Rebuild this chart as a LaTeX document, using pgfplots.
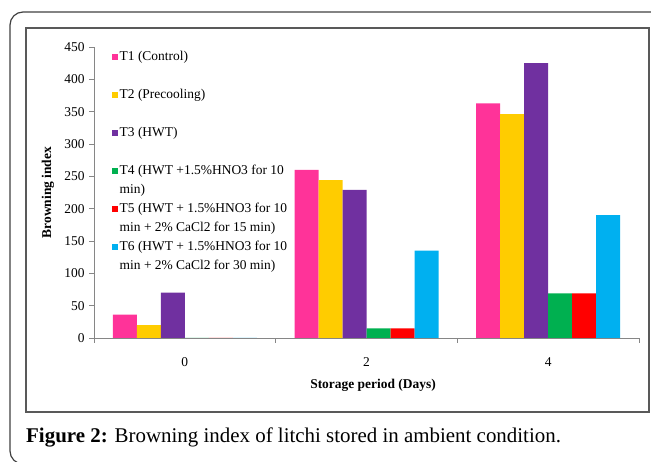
\documentclass[border=0pt]{standalone}
\usepackage{fontspec}
\setmainfont{Liberation Serif}
\usepackage{pgfplots}
\pgfplotsset{compat=1.18}
\definecolor{cT1}{HTML}{FF3399}
\definecolor{cT2}{HTML}{FFCC00}
\definecolor{cT3}{HTML}{7030A0}
\definecolor{cT4}{HTML}{00B050}
\definecolor{cT5}{HTML}{FF0000}
\definecolor{cT6}{HTML}{00B0F0}
\definecolor{axgray}{HTML}{868686}
\begin{document}
\begin{tikzpicture}[x=1bp,y=1bp]
\useasboundingbox (0,0) rectangle (651,462);
\begin{scope}
\clip (0,0) rectangle (651,462);
\draw[line width=1.2bp, color=black!75, rounded corners=13bp] (670,450) -- (10,450) -- (10,-2) -- (670,-2);
\end{scope}
\draw[line width=1.5bp, color=black!65] (26,50) rectangle (649,434);
\node[anchor=base west, inner sep=0pt] at (26,19) {\fontsize{21}{24}\selectfont\textbf{Figure 2:} Browning index of litchi stored in ambient condition.};
\begin{axis}[
  at={(94bp,124bp)}, anchor=south west,
  scale only axis, width=545bp, height=291bp,
  xmin=-0.5, xmax=2.5, ymin=0, ymax=450,
  axis x line*=bottom, axis y line*=left,
  axis line style={draw=axgray, line width=0.8bp},
  ybar=0pt, bar width=24bp,
  xtick={-0.5,0.5,1.5,2.5}, xticklabels={,,,},
  extra x ticks={0,1,2}, extra x tick labels={0,2,4},
  extra x tick style={major tick length=0pt},
  ytick={0,50,...,450},
  tick align=outside, major tick length=5bp,
  tick style={draw=axgray, line width=0.8bp},
  /pgf/number format/assume math mode=true,
  tick label style={font=\fontsize{13.5}{16}\selectfont},
  xticklabel style={anchor=center, yshift=-24bp},
  yticklabel style={xshift=-1bp},
  xlabel={Storage period (Days)},
  ylabel={Browning index},
  xlabel style={at={(axis description cs:0.512,-0.1615)}, anchor=center, font=\fontsize{13.5}{16}\selectfont\bfseries},
  ylabel style={at={(axis description cs:-0.0844,0.5)}, anchor=center, font=\fontsize{13.5}{16}\selectfont\bfseries},
  legend image code/.code={\path[#1, draw=none, fill] (0bp,0bp) rectangle (6bp,6bp);},
  legend style={at={(axis description cs:0.0325,0.988)}, anchor=north west,
    draw=none, fill=none, inner sep=0pt, outer sep=0pt, row sep=5bp,
    font=\fontsize{13.5}{17}\selectfont,
    nodes={inner sep=0pt, text height=10bp, text depth=4bp},
    cells={anchor=base west},
    /tikz/every odd column/.append style={column sep=2bp}},
]
\addplot[fill=cT1, draw=none, bar shift=-60bp, forget plot] coordinates {(0,36) (1,260) (2,363)};
\addplot[fill=cT2, draw=none, bar shift=-36bp, forget plot] coordinates {(0,20) (1,244) (2,346)};
\addplot[fill=cT3, draw=none, bar shift=-12bp, forget plot] coordinates {(0,70) (1,229) (2,425)};
\addplot[fill=cT4, draw=none, bar shift=12bp, forget plot] coordinates {(0,0) (1,15) (2,69)};
\addplot[fill=cT5, draw=none, bar shift=36bp, forget plot] coordinates {(0,0) (1,15) (2,69)};
\addplot[fill=cT6, draw=none, bar shift=60bp, forget plot] coordinates {(0,0) (1,135) (2,190)};
\addlegendimage{fill=cT1, draw=none}
\addlegendentry{T1 (Control)}
\addlegendimage{empty legend}
\addlegendentry{}
\addlegendimage{fill=cT2, draw=none}
\addlegendentry{T2 (Precooling)}
\addlegendimage{empty legend}
\addlegendentry{}
\addlegendimage{fill=cT3, draw=none}
\addlegendentry{T3 (HWT)}
\addlegendimage{empty legend}
\addlegendentry{}
\addlegendimage{fill=cT4, draw=none}
\addlegendentry{T4 (HWT +1.5\%HNO3 for 10}
\addlegendimage{empty legend}
\addlegendentry{min)}
\addlegendimage{fill=cT5, draw=none}
\addlegendentry{T5 (HWT + 1.5\%HNO3 for 10}
\addlegendimage{empty legend}
\addlegendentry{min + 2\% CaCl2 for 15 min)}
\addlegendimage{fill=cT6, draw=none}
\addlegendentry{T6 (HWT + 1.5\%HNO3 for 10}
\addlegendimage{empty legend}
\addlegendentry{min + 2\% CaCl2 for 30 min)}
\end{axis}
\end{tikzpicture}
\end{document}
